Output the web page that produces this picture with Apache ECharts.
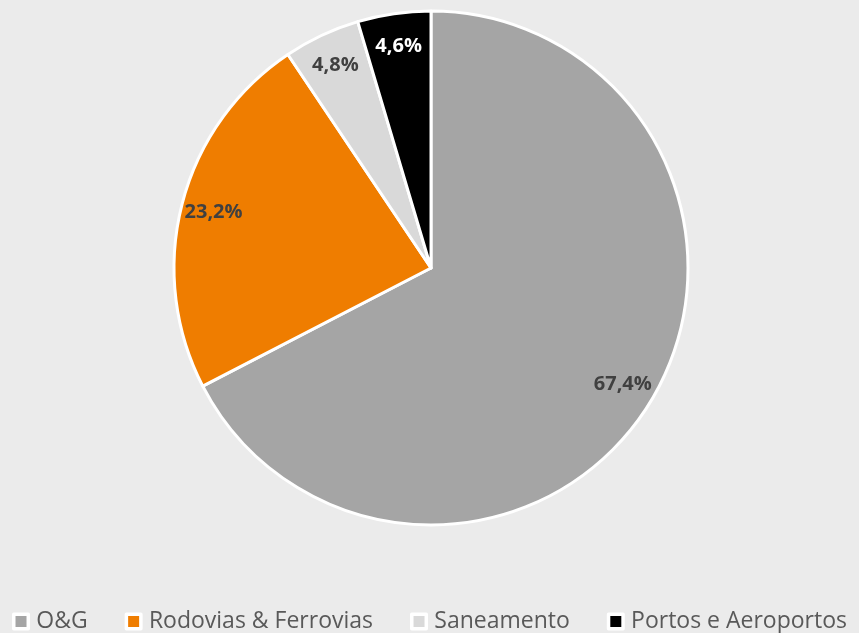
<!DOCTYPE html>
<html>
<head>
<meta charset="utf-8">
<script src="https://cdn.jsdelivr.net/npm/echarts@6/dist/echarts.min.js"></script>
<style>
  html, body { margin: 0; padding: 0; background: #ebebeb; }
  #chart { width: 859px; height: 633px; }
</style>
</head>
<body>
<div id="chart"></div>
<script>
const categories = ['O&G', 'Rodovias & Ferrovias', 'Saneamento', 'Portos e Aeroportos']
const shares = [67.4, 23.2, 4.8, 4.6]
const colors = ['#a5a5a5', '#ef7d00', '#d9d9d9', '#000000']
const labelColors = ['#404040', '#404040', '#404040', '#ffffff']

const chart = echarts.init(document.getElementById('chart'))

const pieData = categories.map((name, i) => ({
  name: name,
  value: shares[i],
  itemStyle: { color: colors[i] },
}))

// transparent ring on top, only used to put the labels further out
const labelData = categories.map((name, i) => ({
  name: name,
  value: shares[i],
  itemStyle: { color: 'rgba(0,0,0,0)', borderWidth: 0 },
  label: { color: labelColors[i] },
}))

chart.setOption({
  backgroundColor: '#ebebeb',
  animation: false,
  legend: {
    data: categories,
    bottom: -5,
    left: 'center',
    padding: [5, 0, 5, 10],
    itemWidth: 14.5,
    itemHeight: 14.5,
    itemGap: 37,
    icon: 'rect',
    itemStyle: { borderColor: '#ffffff', borderWidth: 3.5 },
    textStyle: {
      fontFamily: 'Open Sans',
      fontSize: 23,
      color: '#595959',
      padding: [0, 0, 0, 3],
    },
  },
  series: [
    {
      type: 'pie',
      center: [431, 268],
      radius: [0, 257],
      startAngle: 90,
      clockwise: true,
      data: pieData,
      label: { show: false },
      labelLine: { show: false },
      itemStyle: { borderColor: '#ffffff', borderWidth: 3 },
      emphasis: { disabled: true },
    },
    {
      type: 'pie',
      center: [431, 268],
      radius: [186, 257],
      startAngle: 90,
      clockwise: true,
      silent: true,
      legendHoverLink: false,
      data: labelData,
      label: {
        show: true,
        position: 'inside',
        fontFamily: 'Open Sans',
        fontWeight: 'bold',
        fontSize: 20,
        formatter: (p) => p.value.toFixed(1).replace('.', ',') + '%',
      },
      labelLine: { show: false },
      emphasis: { disabled: true },
    },
  ],
})
</script>
</body>
</html>
